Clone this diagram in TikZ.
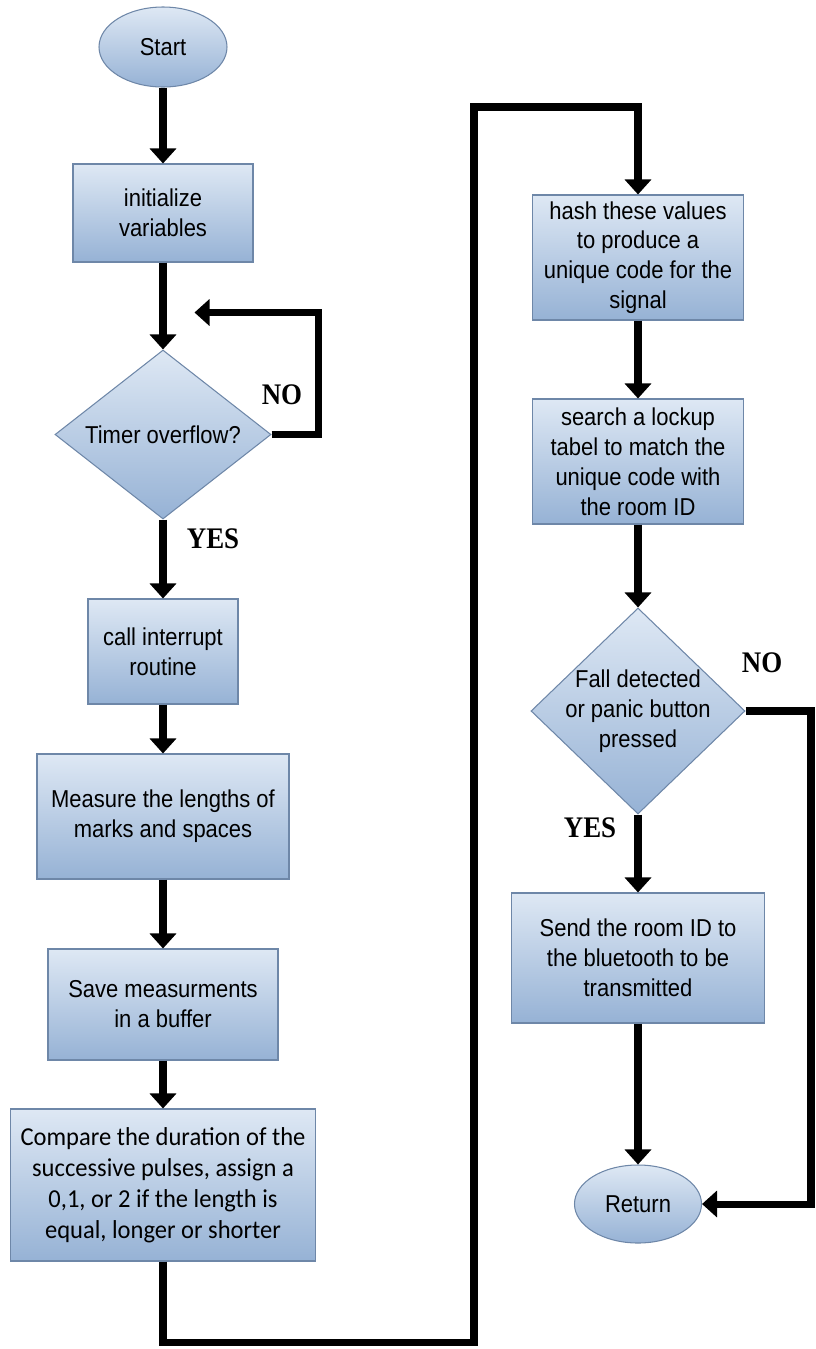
\documentclass[tikz,border=0pt]{standalone}
\usepackage{fontspec}
\setmainfont{Liberation Sans}[FakeStretch=0.9]
\newfontfamily\calfont{Carlito}[FakeStretch=0.95]
\newfontfamily\timesfont{Liberation Serif}[FakeStretch=0.9]
\usetikzlibrary{shapes.geometric,arrows.meta}
\definecolor{boxtop}{RGB}{222,232,244}
\definecolor{boxbot}{RGB}{150,178,213}
\definecolor{boxline}{RGB}{110,135,168}

\begin{document}
\begin{tikzpicture}[
	box/.style={draw=boxline, line width=0.6pt, top color=boxtop, bottom color=boxbot,
		align=center, inner sep=2pt, font=\fontsize{13.9}{17}\selectfont},
	oval/.style={box, ellipse},
	decision/.style={box, diamond, inner sep=-5pt},
	flow/.style={line width=4pt, -{Triangle[width=0.52cm,length=0.3cm]}},
	answer/.style={font=\timesfont\bfseries\fontsize{17}{19}\selectfont}
	]
	\useasboundingbox (0,0) rectangle (16.3,-26.98);
	
	% left column
	\node[oval, minimum width=2.56cm, minimum height=1.6cm] (start) at (3.26,-0.94) {Start};
	\node[box, minimum width=3.6cm, minimum height=1.96cm] (init) at (3.26,-4.26) {initialize\\variables};
	\node[decision, minimum width=4.32cm, minimum height=3.38cm] (timer) at (3.26,-8.69) {Timer overflow?};
	\node[box, minimum width=3.0cm, minimum height=2.1cm] (call) at (3.26,-13.03) {call interrupt\\routine};
	\node[box, minimum width=5.04cm, minimum height=2.5cm] (meas) at (3.26,-16.33) {Measure the lengths of\\marks and spaces};
	\node[box, minimum width=4.6cm, minimum height=2.22cm] (save) at (3.26,-20.09) {Save measurments\\in a buffer};
	\node[box, minimum width=6.1cm, minimum height=3.04cm, font=\calfont\fontsize{14.7}{17.6}\selectfont] (cmp) at (3.26,-23.7)
		{Compare the duration of the\\successive pulses, assign a\\0,1, or 2 if the length is\\equal, longer or shorter};
	
	% right column
	\node[box, minimum width=4.22cm, minimum height=2.5cm] (hash) at (12.76,-5.15)
		{hash these values\\to produce a\\unique code for the\\signal};
	\node[box, minimum width=4.22cm, minimum height=2.5cm] (search) at (12.76,-9.23)
		{search a lockup\\tabel to match the\\unique code with\\the room ID};
	\node[decision, minimum width=4.28cm, minimum height=4.12cm] (fall) at (12.76,-14.22)
		{Fall detected\\or panic button\\pressed};
	\node[box, minimum width=5.06cm, minimum height=2.6cm] (send) at (12.76,-19.16)
		{Send the room ID to\\the bluetooth to be\\transmitted};
	\node[oval, minimum width=2.54cm, minimum height=1.56cm] (ret) at (12.76,-24.08) {Return};
	
	\node[answer] (no1) at (5.64,-7.9) {NO};
	\node[answer] (yes1) at (4.26,-10.78) {YES};
	\node[answer] (no2) at (15.24,-13.26) {NO};
	\node[answer] (yes2) at (11.8,-16.56) {YES};
	
	\coordinate (loopend) at (3.89,-6.25);
	\coordinate (loopcnr) at (6.37,-6.25);
	\coordinate (bot) at (9.48,-26.84);
	\coordinate (top) at (9.48,-2.14);
	\coordinate (rcnr) at (16.22,-24.08);
	
	\draw[flow] (start) -- (init);
	\draw[flow] (init) -- (timer);
	\draw[flow] (timer.east) -| (loopcnr) -- (loopend);
	\draw[flow] (timer) -- (call);
	\draw[flow] (call) -- (meas);
	\draw[flow] (meas) -- (save);
	\draw[flow] (save) -- (cmp);
	\draw[flow] (cmp.south) |- (bot) -- (top) -| (hash.north);
	\draw[flow] (hash) -- (search);
	\draw[flow] (search) -- (fall);
	\draw[flow] (fall) -- (send);
	\draw[flow] (fall.east) -| (rcnr) -- (ret.east);
	\draw[flow] (send) -- (ret);
\end{tikzpicture}
\end{document}
